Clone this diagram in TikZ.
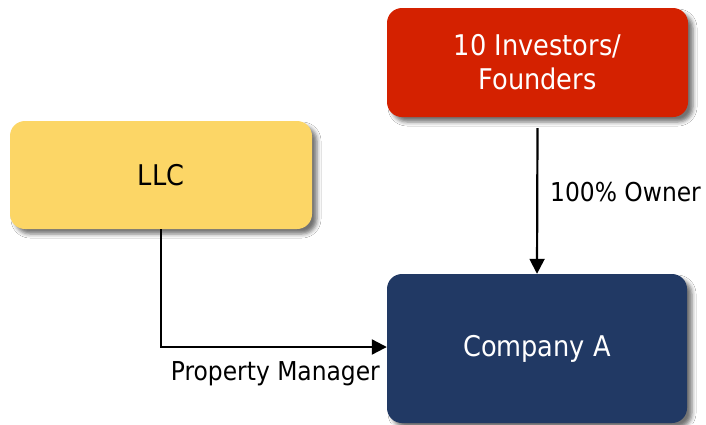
\documentclass[tikz,border=0pt]{standalone}
\usepackage{fontspec}
\setmainfont{DejaVu Sans Condensed}
\usetikzlibrary{arrows.meta,shadows.blur}
\definecolor{boxred}{RGB}{212,33,0}
\definecolor{boxyellow}{RGB}{252,214,102}
\definecolor{boxnavy}{RGB}{33,57,100}
\tikzset{
  card/.style={rounded corners=15pt, inner sep=0pt, align=center,
    blur shadow={shadow xshift=5pt, shadow yshift=-5pt, shadow blur radius=4pt, shadow opacity=55},
    font=\fontsize{28.5}{34}\selectfont},
  link/.style={line width=2.2pt, -{Triangle[length=15pt,width=15pt]}},
  linklabel/.style={font=\fontsize{26}{30}\selectfont, inner sep=0pt}
}
\begin{document}
\begin{tikzpicture}[x=1pt,y=-1pt]
  \useasboundingbox[fill=white] (0,0) rectangle (706,424);
  \node[card, fill=boxred, text=white, minimum width=301pt, minimum height=109pt] (inv) at (537.5,62.5) {10 Investors/\\Founders};
  \node[card, fill=boxyellow, text=black, minimum width=302pt, minimum height=108pt] (llc) at (161,175) {LLC};
  \node[card, fill=boxnavy, text=white, minimum width=300pt, minimum height=149pt] (comp) at (537,348.5) {Company A};
  \coordinate (invout) at ([yshift=-11pt]inv.south);
  \draw[link] (invout) -- (comp.north);
  \draw[link] (llc.south) |- ([yshift=1.5pt]comp.west);
  \node[linklabel, anchor=west] (own) at (550,192) {100\% Owner};
  \node[linklabel, anchor=east] (pm) at (380,374) {Property Manager};
\end{tikzpicture}
\end{document}
